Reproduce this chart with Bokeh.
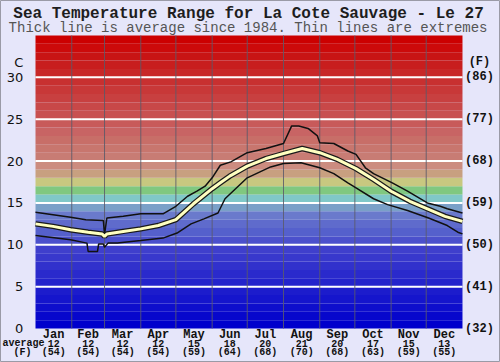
from bokeh.plotting import figure
from bokeh.models import Range1d
from bokeh.core.properties import value
from bokeh.embed import file_html
from bokeh.resources import INLINE
import numpy as np

# ---------------- data ----------------
months = ["Jan", "Feb", "Mar", "Apr", "May", "Jun", "Jul", "Aug", "Sep", "Oct", "Nov", "Dec"]
month_days = [31, 28, 31, 30, 31, 30, 31, 31, 30, 31, 30, 31]
avg_c = [12, 12, 12, 12, 15, 18, 20, 21, 20, 17, 15, 13]
avg_f = [54, 54, 54, 54, 59, 64, 68, 70, 68, 63, 59, 55]

c_ticks = [0, 5, 10, 15, 20, 25, 30]
f_ticks = ["(32)", "(41)", "(50)", "(59)", "(68)", "(77)", "(86)"]

# average (thick line), day of year -> deg C
avg_day = [0, 15, 30, 45, 57, 59, 61, 75, 90, 105, 120, 135, 151, 158, 166, 181,
           197, 212, 228, 243, 258, 274, 289, 304, 320, 335, 350, 365]
avg_temp = [12.5, 12.2, 11.8, 11.5, 11.3, 11.0, 11.3, 11.6, 11.9, 12.3, 13.0, 14.9, 16.7, 17.4, 18.2, 19.4,
            20.3, 20.9, 21.5, 21.0, 20.2, 19.1, 17.8, 16.4, 15.2, 14.3, 13.4, 12.8]

# upper extreme (thin line)
max_day = [0, 30, 43, 58, 59, 61, 75, 90, 109, 120, 130, 138, 145, 151, 158, 167,
           181, 197, 212, 219, 225, 233, 241, 243, 255, 267, 274, 282, 289, 305, 318,
           335, 346, 352, 365]
max_temp = [13.9, 13.3, 13.0, 12.9, 11.2, 13.2, 13.4, 13.7, 13.7, 14.6, 15.8, 16.4, 17.0, 18.0, 19.5, 19.9,
            21.0, 21.5, 22.1, 24.2, 24.2, 23.9, 23.0, 22.2, 22.1, 21.2, 20.8, 19.2, 18.5, 17.4, 16.4,
            15.0, 14.6, 14.3, 13.8]

# lower extreme (thin line)
min_day = [0, 30, 44, 45, 53, 54, 58, 59, 62, 70, 90, 109, 121, 133, 144, 156, 162,
           181, 201, 212, 227, 243, 255, 267, 274, 289, 301, 318, 336, 352, 361, 365]
min_temp = [11.1, 10.6, 10.2, 9.2, 9.2, 10.1, 10.1, 9.7, 10.2, 10.2, 10.5, 10.8, 11.4, 12.5, 13.1, 13.8, 15.5,
            18.0, 19.3, 19.7, 19.8, 19.2, 18.5, 17.4, 16.8, 15.5, 14.8, 14.1, 13.2, 12.3, 11.5, 11.3]

# background colour band per degree (0-1 ... 34-35)
band_colors = [
    "#0000cc", "#0707cc", "#0e0ecc", "#1515cc", "#1c1ccc", "#2323cc", "#2a2acc", "#3131cc",
    "#3838cc", "#3f3fcc", "#4b50cc", "#5560cc", "#5f6bcc", "#6a7acc", "#7aa0c8", "#80c8c8",
    "#80c880", "#c8c880", "#c8a080", "#cc8c80", "#c87c74", "#c8766e", "#c86e68", "#c86464",
    "#c85a5a", "#c85050", "#c84848", "#c84040", "#c83838", "#c83030", "#c82828", "#c81e1e",
    "#c81414", "#cc0a0a", "#cc0000",
]

# ---------------- figure ----------------
BG = "#e6e6fa"
p = figure(width=500, height=362, output_backend="svg", toolbar_location=None,
           x_range=Range1d(-29.92, 397.5), y_range=Range1d(-4.06, 39.18),
           min_border=0, min_border_left=0, min_border_right=0,
           min_border_top=0, min_border_bottom=0)
p.axis.visible = False
p.grid.visible = False
p.outline_line_color = "#9a9aa6"
p.outline_line_width = 1
p.background_fill_color = BG
p.border_fill_color = BG

year = sum(month_days)
bottoms = np.arange(len(band_colors))
p.quad(left=0, right=year, bottom=bottoms, top=bottoms + 1, fill_color=band_colors, line_color=None)

# horizontal white grid
p.segment(x0=0, x1=year, y0=c_ticks[1:], y1=c_ticks[1:], line_color="white", line_width=2)

# month boundaries
bounds = np.cumsum(month_days)[:-1]
p.segment(x0=bounds, x1=bounds, y0=0, y1=len(band_colors), line_color="#5a5a6a", line_width=1, line_alpha=0.85)

# extremes
p.line(max_day, max_temp, line_color="#111111", line_width=1.5)
p.line(min_day, min_temp, line_color="#111111", line_width=1.5)
# average
p.line(avg_day, avg_temp, line_color="#1a1a1a", line_width=5.5)
p.line(avg_day, avg_temp, line_color="#ffffc0", line_width=3)

mono = value("Liberation Mono")

# titles
p.text(x=[182.1], y=[37.57], text=["Sea Temperature Range for La Cote Sauvage - Le 27"],
       text_font=mono, text_font_style="bold", text_font_size=value("16px"),
       text_align="center", text_baseline="middle", text_color="#1e1e1e")
p.text(x=[181.7], y=[35.84], text=["Thick line is average since 1984. Thin lines are extremes"],
       text_font=mono, text_font_size=value("14px"),
       text_align="center", text_baseline="middle", text_color="#555555")

# left axis (C)
p.text(x=-10.5, y=c_ticks, text=[str(c) for c in c_ticks], text_font=value("DejaVu Sans"),
       text_font_size=value("13px"), text_align="right", text_baseline="middle", text_color="#111111")
p.text(x=[-10.5], y=[31.8], text=["C"], text_font=value("DejaVu Sans"),
       text_font_size=value("13px"), text_align="right", text_baseline="middle", text_color="#111111")

# right axis (F)
p.text(x=379.5, y=c_ticks, text=f_ticks, text_font=mono, text_font_style="bold",
       text_font_size=value("12px"), text_align="center", text_baseline="middle", text_color="#111111")
p.text(x=[379.5], y=[31.8], text=["(F)"], text_font=mono, text_font_style="bold",
       text_font_size=value("12px"), text_align="center", text_baseline="middle", text_color="#111111")

# bottom labels
starts = np.concatenate([[0], bounds])
mids = starts + np.array(month_days) / 2.0
p.text(x=mids, y=-0.72, text=months, text_font=mono, text_font_style="bold",
       text_font_size=value("12px"), text_align="center", text_baseline="middle", text_color="#111111")
p.text(x=mids, y=-1.82, text=[str(v) for v in avg_c], text_font=mono, text_font_style="bold",
       text_font_size=value("10px"), text_align="center", text_baseline="middle", text_color="#111111")
p.text(x=mids, y=-2.92, text=["(%d)" % v for v in avg_f], text_font=mono, text_font_style="bold",
       text_font_size=value("10px"), text_align="center", text_baseline="middle", text_color="#111111")
p.text(x=[-28.2], y=[-1.82], text=["average"], text_font=mono, text_font_style="bold",
       text_font_size=value("10px"), text_align="left", text_baseline="middle", text_color="#111111")
p.text(x=[-11.1], y=[-2.92], text=["(F)"], text_font=mono, text_font_style="bold",
       text_font_size=value("10px"), text_align="center", text_baseline="middle", text_color="#111111")

open("out.html", "w").write(file_html(p, INLINE))
